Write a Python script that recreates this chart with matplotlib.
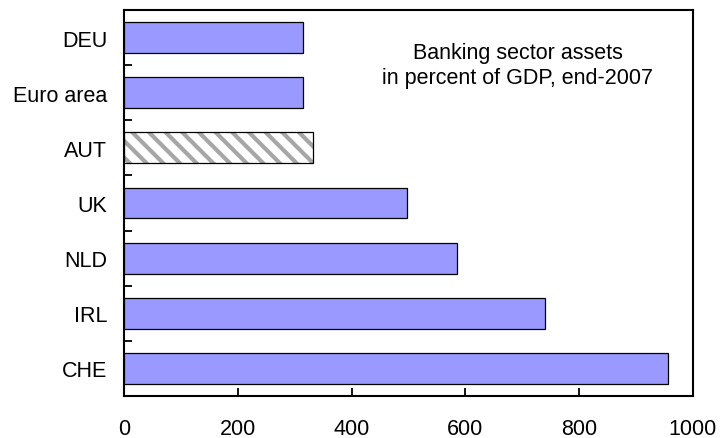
import matplotlib
matplotlib.use("Agg")
import matplotlib.pyplot as plt
import numpy as np

# datos (de arriba hacia abajo)
countries = ["DEU", "Euro area", "AUT", "UK", "NLD", "IRL", "CHE"]
assets_pct = [315, 315, 333, 497, 585, 740, 956]
hatched = ["AUT"]

x_ticks = [0, 200, 400, 600, 800, 1000]
note = "Banking sector assets\nin percent of GDP, end-2007"

COLOR_BARRA = "#9999ff"
COLOR_RAYA = "#a6a6a6"

plt.rcParams["font.family"] = ["Liberation Sans", "DejaVu Sans"]
plt.rcParams["hatch.linewidth"] = 3.0

fig = plt.figure(figsize=(7.23, 4.39), dpi=100)
ax = fig.add_axes([0.1715, 0.0957, 0.9585 - 0.1715, 0.975 - 0.0957])

n = len(countries)
pos = np.arange(n)[::-1]

for y, c, v in zip(pos, countries, assets_pct):
    if c in hatched:
        ax.barh(y, v, height=0.56, color="white", edgecolor=COLOR_RAYA,
                hatch="\\\\", linewidth=0, zorder=2)
        ax.barh(y, v, height=0.56, fill=False, edgecolor="black",
                linewidth=0.9, zorder=3)
    else:
        ax.barh(y, v, height=0.56, color=COLOR_BARRA, edgecolor="black",
                linewidth=0.9, zorder=3)

ax.set_xlim(0, 1000)
ax.set_ylim(-0.5, n - 0.5)

ax.set_xticks(x_ticks)
ax.set_yticks(pos)
ax.set_yticklabels(countries)
ax.set_yticks(np.arange(n - 1) + 0.5, minor=True)

ax.tick_params(axis="x", direction="in", length=6, width=1.3, pad=16,
               labelsize=15.5)
ax.tick_params(axis="y", which="major", length=0, pad=12, labelsize=15.5)
ax.tick_params(axis="y", which="minor", direction="in", length=6, width=1.3)

for s in ax.spines.values():
    s.set_linewidth(1.5)

ax.text(0.692, 0.857, note, transform=ax.transAxes, ha="center",
        va="center", fontsize=15.5, linespacing=1.25)

fig.savefig("out.png", dpi=100)
